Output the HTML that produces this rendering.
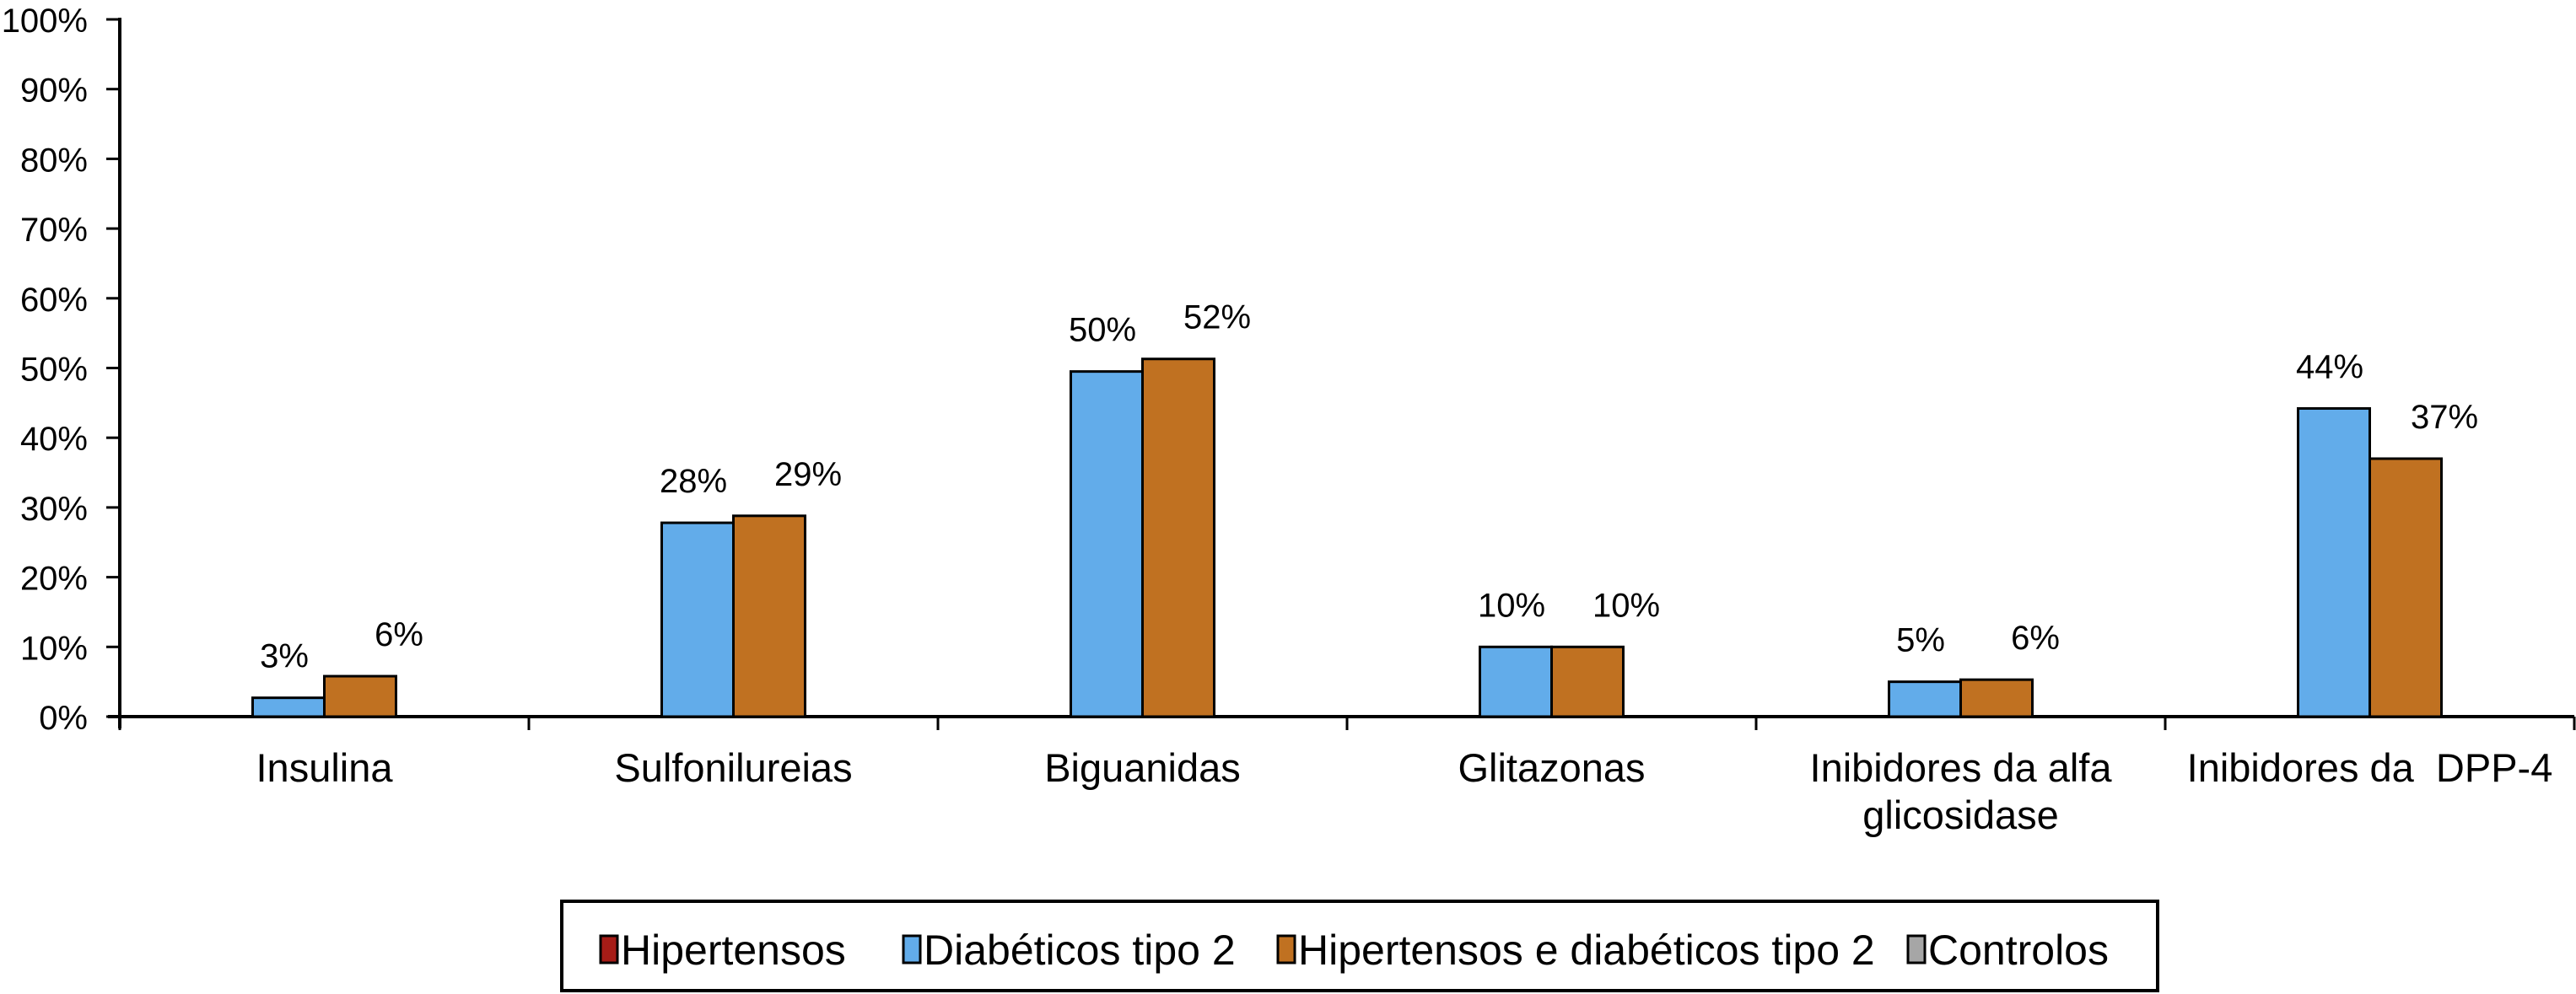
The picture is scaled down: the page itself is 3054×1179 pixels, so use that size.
<!DOCTYPE html>
<html><head><meta charset="utf-8"><style>
html,body{margin:0;padding:0;background:#fff;}
svg{display:block;font-family:"Liberation Sans",Arial,sans-serif;}
</style></head><body>
<svg id="chart" width="3054" height="1179" viewBox="0 0 3054 1179" xmlns="http://www.w3.org/2000/svg">
<g id="axes"></g>
<g id="bars"></g>
<g id="legend"></g>
</svg>
<script>
const categories = [["Insulina"],["Sulfonilureias"],["Biguanidas"],["Glitazonas"],["Inibidores da alfa","glicosidase"],["Inibidores da  DPP-4"]];
const diabValues = [2.7,27.8,49.5,10,5,44.2];
const hipDiabValues = [5.8,28.8,51.3,10,5.3,37];
const diabLabels = ["3%","28%","50%","10%","5%","44%"];
const hipDiabLabels = ["6%","29%","52%","10%","6%","37%"];
const yTicks = [0,10,20,30,40,50,60,70,80,90,100];
const yTickLabels = ["0%","10%","20%","30%","40%","50%","60%","70%","80%","90%","100%"];
const legendNames = ["Hipertensos","Diabéticos tipo 2","Hipertensos e diabéticos tipo 2","Controlos"];
const legendColors = ["#a51c17","#62acea","#c07121","#a6a6a6"];

const NS="http://www.w3.org/2000/svg";
const X0=142, X1=3052, Y0=850, Ytop=23;
const catW=(X1-X0)/categories.length;
const barW=85;
function y(v){return Y0-(v/100)*(Y0-Ytop);}
function cx(i){return X0+catW*(i+0.5);}
function mk(tag,attrs,parent,text){const e=document.createElementNS(NS,tag);for(const k in attrs)e.setAttribute(k,attrs[k]);if(text!==undefined)e.textContent=text;parent.appendChild(e);return e;}
const axes=document.getElementById('axes'), bars=document.getElementById('bars'), legend=document.getElementById('legend');

let e=mk('line',{x1:X0,y1:Ytop-2,x2:X0,y2:Y0+14,stroke:'#000','stroke-width':4},axes);


e=mk('line',{x1:X0-14,y1:Y0,x2:X1,y2:Y0,stroke:'#000','stroke-width':4},axes);


yTicks.forEach((t,i)=>{
  const tk=mk('line',{x1:X0-16,y1:y(t),x2:X0,y2:y(t),stroke:'#000','stroke-width':3},axes);
  
  
  const lb=mk('text',{x:104,y:y(t)+15,'text-anchor':'end','font-size':40},axes,yTickLabels[i]);
  
  
});
for(let i=0;i<=categories.length;i++){
  const xx=X0+catW*i;
  const tk=mk('line',{x1:xx,y1:Y0,x2:xx,y2:Y0+16,stroke:'#000','stroke-width':3},axes);
  
  
}
categories.forEach((lines,i)=>{
  lines.forEach((ln,j)=>{
    const t=mk('text',{x:cx(i),y:927+j*56,'text-anchor':'middle','font-size':47,'xml:space':'preserve'},axes,ln);
    t.setAttribute('style','white-space:pre');
    
    
  });
  const b1=mk('rect',{x:cx(i)-barW,y:y(diabValues[i]),width:barW,height:Y0-y(diabValues[i]),fill:'#62acea',stroke:'#000','stroke-width':3},bars);
  
  
  const b2=mk('rect',{x:cx(i),y:y(hipDiabValues[i]),width:barW,height:Y0-y(hipDiabValues[i]),fill:'#c07121',stroke:'#000','stroke-width':3},bars);
  
  
  const l1=mk('text',{x:cx(i)-barW/2-5,y:y(diabValues[i])-36,'text-anchor':'middle','font-size':40},bars,diabLabels[i]);
  
  
  const l2=mk('text',{x:cx(i)+barW/2+46,y:y(hipDiabValues[i])-36,'text-anchor':'middle','font-size':40},bars,hipDiabLabels[i]);
  
  
});
e=mk('rect',{x:666,y:1069,width:1892,height:106,fill:'#fff',stroke:'#000','stroke-width':4},legend);


const legX=[712,1071,1515,2262];
legendNames.forEach((n,i)=>{
  const m=mk('rect',{x:legX[i],y:1110,width:20,height:32,fill:legendColors[i],stroke:'#000','stroke-width':3},legend);
  
  
  const t=mk('text',{x:legX[i]+24,y:1144,'font-size':50},legend,n);
  
  
});
</script>
</body></html>
